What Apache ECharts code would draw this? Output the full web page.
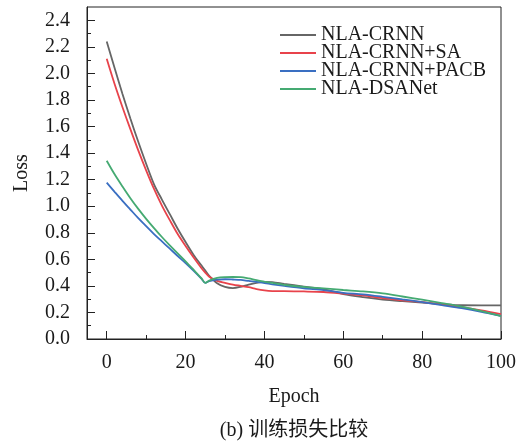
<!DOCTYPE html>
<html>
<head>
<meta charset="utf-8">
<script src="https://cdn.jsdelivr.net/npm/echarts@6/dist/echarts.min.js"></script>
<style>html,body{margin:0;padding:0;background:#fff;}#c{width:525px;height:443px;}</style>
</head>
<body>
<div id="c"></div>
<script>
const epochs = [0,2,4,6,8,10,12,14,16,18,20,22,24,25,26,28,30,32,34,36,38,40,42,45,50,55,60,65,70,75,80,85,90,95,100];
const nlaCrnn = [2.24,2.04,1.845,1.66,1.485,1.32,1.165,1.05,0.94,0.83,0.73,0.635,0.555,0.515,0.475,0.42,0.392,0.383,0.393,0.41,0.423,0.43,0.428,0.415,0.395,0.375,0.338,0.315,0.297,0.285,0.275,0.263,0.254,0.253,0.253];
const nlaCrnnSA = [2.11,1.92,1.745,1.58,1.42,1.27,1.13,1.005,0.895,0.79,0.70,0.615,0.535,0.5,0.468,0.437,0.423,0.41,0.4,0.39,0.376,0.366,0.361,0.36,0.358,0.354,0.342,0.328,0.307,0.291,0.277,0.259,0.24,0.216,0.188];
const nlaCrnnPACB = [1.177,1.108,1.04,0.975,0.91,0.85,0.79,0.735,0.68,0.625,0.572,0.515,0.455,0.422,0.436,0.447,0.45,0.448,0.445,0.437,0.43,0.421,0.412,0.4,0.382,0.368,0.348,0.336,0.318,0.298,0.278,0.255,0.232,0.205,0.174];
const nlaDSANet = [1.342,1.24,1.148,1.06,0.98,0.905,0.835,0.768,0.705,0.645,0.585,0.522,0.458,0.422,0.44,0.46,0.466,0.467,0.466,0.456,0.443,0.432,0.422,0.408,0.392,0.381,0.369,0.358,0.343,0.32,0.296,0.27,0.243,0.21,0.172];
const seriesNames = ['NLA-CRNN','NLA-CRNN+SA','NLA-CRNN+PACB','NLA-DSANet'];
const seriesColors = ['#666666','#e8434b','#3a6fc2','#45aa72'];
const xMajorTicks = [0,20,40,60,80,100];
const xMinorTicks = [10,30,50,70,90];
const yMajorTicks = [0,0.2,0.4,0.6,0.8,1.0,1.2,1.4,1.6,1.8,2.0,2.2,2.4];
const yMinorTicks = [0.1,0.3,0.5,0.7,0.9,1.1,1.3,1.5,1.7,1.9,2.1,2.3];
const caption = '(b) 训练损失比较';

const FONT = '"Liberation Serif","Times New Roman",serif';
const TXT = '#1a1a1a';
const chart = echarts.init(document.getElementById('c'));
const allData = [nlaCrnn, nlaCrnnSA, nlaCrnnPACB, nlaDSANet];
const XMIN = -5, XMAX = 100, YMIN = 0, YMAX = 2.5;

chart.setOption({
  animation: false,
  color: seriesColors,
  grid: {left: 87, right: 24, top: 7, bottom: 104, show: true, borderColor: '#222', borderWidth: 1, backgroundColor: 'transparent'},
  legend: {
    left: 275, top: 20, orient: 'vertical', itemGap: -2, itemWidth: 36, itemHeight: 2, icon: 'rect',
    textStyle: {fontFamily: FONT, fontSize: 20, color: TXT, lineHeight: 18.6},
    data: seriesNames
  },
  xAxis: [
    {type: 'value', min: XMIN, max: XMAX, position: 'bottom',
     name: 'Epoch', nameLocation: 'middle', nameGap: 48,
     nameTextStyle: {fontFamily: FONT, fontSize: 20, color: TXT},
     axisLine: {show: true, onZero: false, lineStyle: {color: '#222', width: 1}},
     axisTick: {show: true, inside: true, length: 8, customValues: xMajorTicks, lineStyle: {color: '#222'}},
     axisLabel: {show: true, customValues: xMajorTicks, margin: 14, fontFamily: FONT, fontSize: 20, color: TXT},
     splitLine: {show: false}},
    {type: 'value', min: XMIN, max: XMAX, position: 'bottom',
     axisLine: {show: false, onZero: false},
     axisTick: {show: true, inside: true, length: 4, customValues: xMinorTicks, lineStyle: {color: '#222'}},
     axisLabel: {show: false}, splitLine: {show: false}}
  ],
  yAxis: [
    {type: 'value', min: YMIN, max: YMAX, position: 'left',
     name: 'Loss', nameLocation: 'middle', nameGap: 55,
     nameTextStyle: {fontFamily: FONT, fontSize: 20, color: TXT},
     axisLine: {show: true, onZero: false, lineStyle: {color: '#222', width: 1}},
     axisTick: {show: true, inside: true, length: 8, customValues: yMajorTicks, lineStyle: {color: '#222'}},
     axisLabel: {show: true, customValues: yMajorTicks, margin: 17, fontFamily: FONT, fontSize: 20, color: TXT,
       formatter: v => v.toFixed(1)},
     splitLine: {show: false}},
    {type: 'value', min: YMIN, max: YMAX, position: 'left',
     axisLine: {show: false, onZero: false},
     axisTick: {show: true, inside: true, length: 4, customValues: yMinorTicks, lineStyle: {color: '#222'}},
     axisLabel: {show: false}, splitLine: {show: false}}
  ],
  graphic: [{
    type: 'text', x: 294, y: 431,
    style: {text: caption, textAlign: 'center', textVerticalAlign: 'middle',
      font: '20px "Liberation Serif","Noto Sans CJK SC",serif', fill: TXT}
  }],
  series: seriesNames.map((n, i) => ({
    name: n, type: 'line', xAxisIndex: 0, yAxisIndex: 0,
    data: epochs.map((e, k) => [e, allData[i][k]]),
    showSymbol: false, symbol: 'none', smooth: 0.3,
    lineStyle: {width: 1.8, color: seriesColors[i]},
    itemStyle: {color: seriesColors[i]}
  }))
});
</script>
</body>
</html>
